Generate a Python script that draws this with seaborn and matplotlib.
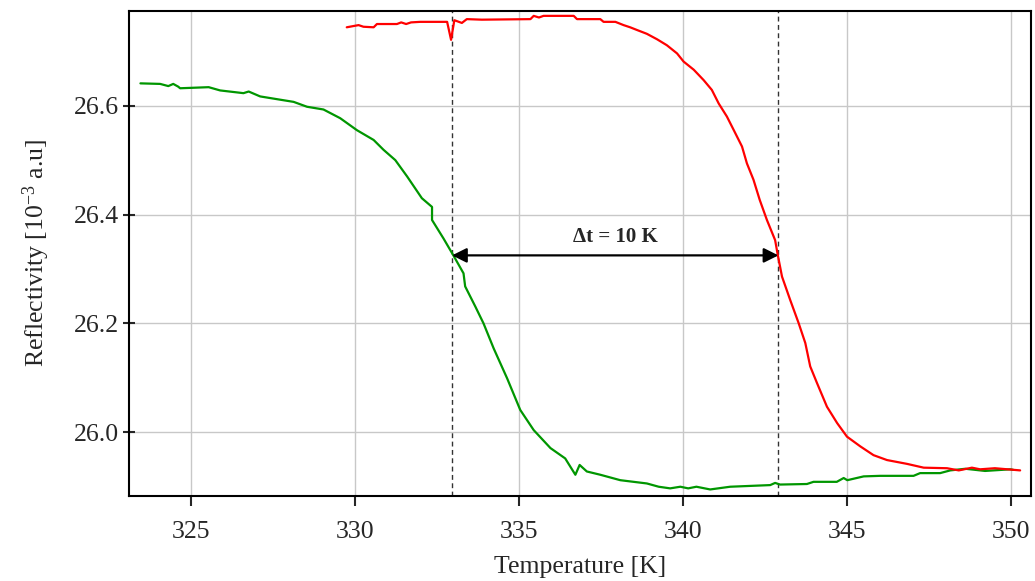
import matplotlib
matplotlib.use("Agg")
import matplotlib.pyplot as plt
import seaborn as sns
import pandas as pd

# Cooling branch (green): temperature [K] and reflectivity [1e-3 a.u.]
cool_T = [323.45, 324.05, 324.30, 324.45, 324.60, 324.66, 325.53, 325.88, 326.59,
          326.75, 327.10, 327.71, 328.12, 328.53, 329.03, 329.54, 330.05, 330.56,
          330.86, 331.22, 331.58, 332.03, 332.34, 332.34, 332.69, 333.00, 333.30,
          333.35, 333.66, 333.91, 334.22, 334.63, 335.03, 335.44, 335.95, 336.40,
          336.71, 336.84, 337.06, 337.47, 338.08, 338.89, 339.25, 339.60, 339.91,
          340.15, 340.40, 340.82, 341.43, 342.65, 342.80, 342.95, 343.77, 343.97,
          344.68, 344.89, 345.00, 345.50, 346.00, 347.02, 347.22, 347.83, 348.14,
          348.60, 349.20, 349.97, 350.06]
cool_R = [26.641, 26.640, 26.636, 26.640, 26.635, 26.632, 26.634, 26.628, 26.623,
          26.626, 26.617, 26.611, 26.607, 26.598, 26.593, 26.577, 26.555, 26.537,
          26.519, 26.500, 26.470, 26.430, 26.414, 26.390, 26.356, 26.324, 26.292,
          26.268, 26.231, 26.200, 26.154, 26.099, 26.041, 26.004, 25.971, 25.952,
          25.922, 25.940, 25.928, 25.922, 25.912, 25.906, 25.900, 25.897, 25.900,
          25.897, 25.900, 25.895, 25.900, 25.903, 25.907, 25.904, 25.905, 25.909,
          25.909, 25.916, 25.912, 25.919, 25.920, 25.920, 25.925, 25.925, 25.930,
          25.933, 25.929, 25.932, 25.931]

# Heating branch (red)
heat_T = [329.74, 330.10, 330.25, 330.56, 330.66, 331.27, 331.40, 331.55, 331.70,
          331.98, 332.80, 332.92, 333.02, 333.25, 333.40, 333.86, 335.34, 335.44,
          335.60, 335.74, 336.66, 336.76, 337.47, 337.57, 337.93, 338.18, 338.38,
          338.59, 338.89, 339.20, 339.50, 339.81, 340.01, 340.32, 340.62, 340.87,
          341.08, 341.33, 341.54, 341.79, 341.94, 342.14, 342.33, 342.55, 342.80,
          342.88, 343.01, 343.26, 343.52, 343.72, 343.87, 344.08, 344.38, 344.69,
          344.99, 345.40, 345.80, 346.21, 346.82, 347.33, 348.04, 348.40, 348.80,
          349.05, 349.50, 350.27]
heat_R = [26.744, 26.748, 26.745, 26.744, 26.750, 26.750, 26.753, 26.750, 26.753,
          26.754, 26.754, 26.721, 26.757, 26.752, 26.759, 26.758, 26.759, 26.765,
          26.762, 26.765, 26.765, 26.759, 26.759, 26.754, 26.754, 26.748, 26.744,
          26.739, 26.732, 26.722, 26.711, 26.696, 26.681, 26.666, 26.647, 26.629,
          26.604, 26.580, 26.555, 26.525, 26.494, 26.464, 26.427, 26.390, 26.353,
          26.326, 26.286, 26.243, 26.200, 26.164, 26.121, 26.090, 26.047, 26.017,
          25.992, 25.974, 25.958, 25.949, 25.942, 25.935, 25.934, 25.930, 25.935,
          25.932, 25.934, 25.930]

# Transition midpoints and hysteresis width
T_mid_cool = 332.95
T_mid_heat = 342.90
R_arrow = 26.325
delta_label = "Δt = 10 K"

x_ticks = [325, 330, 335, 340, 345, 350]
y_ticks = [26.0, 26.2, 26.4, 26.6]

df = pd.concat([
    pd.DataFrame({"T": cool_T, "R": cool_R, "branch": "cooling"}),
    pd.DataFrame({"T": heat_T, "R": heat_R, "branch": "heating"}),
], ignore_index=True)

sns.set_theme(style="ticks")
plt.rcParams["font.family"] = ["Liberation Serif", "DejaVu Serif"]
plt.rcParams["mathtext.fontset"] = "custom"
plt.rcParams["mathtext.rm"] = "Liberation Serif"
plt.rcParams["mathtext.it"] = "Liberation Serif:italic"
plt.rcParams["mathtext.bf"] = "Liberation Serif:bold"

fig = plt.figure(figsize=(10.35, 5.81), dpi=100)
ax = fig.add_axes([0.1246, 0.1468, 0.8715, 0.8348])

ax.grid(True, color="#c8c8c8", linewidth=1.0, zorder=0)
ax.set_axisbelow(True)

sns.lineplot(data=df, x="T", y="R", hue="branch",
             estimator=None, sort=False,
             palette={"cooling": "#009600", "heating": "#ff0000"},
             linewidth=1.6, legend=False, ax=ax, zorder=3)

for tv in (T_mid_cool, T_mid_heat):
    ax.axvline(tv, color="#333333", linestyle=(0, (3.5, 2.5)), linewidth=1.0, zorder=2)

ax.annotate("", xy=(T_mid_cool, R_arrow), xytext=(T_mid_heat, R_arrow),
            arrowprops=dict(arrowstyle="<|-|>", color="black", lw=1.6,
                            mutation_scale=22, shrinkA=0, shrinkB=0), zorder=4)
ax.text((T_mid_cool + T_mid_heat) / 2, R_arrow + 0.015, delta_label,
        ha="center", va="bottom", fontsize=15, fontweight="bold")

ax.set_xlim(323.1, 350.6)
ax.set_ylim(25.8835, 26.7745)
ax.set_xticks(x_ticks)
ax.set_yticks(y_ticks)
ax.set_yticklabels([f"{v:.1f}" for v in y_ticks])

ax.tick_params(axis="x", direction="out", length=7.5, width=1.5, labelsize=18.5, pad=11)
ax.tick_params(axis="y", direction="inout", length=8.5, width=1.5, labelsize=18.5, pad=3)
for s in ax.spines.values():
    s.set_linewidth(1.5)
    s.set_color("black")

ax.set_xlabel("Temperature [K]", fontsize=18.5, labelpad=9)
ax.set_ylabel(r"Reflectivity [10$^{\mathrm{-3}}$ a.u]", fontsize=18.5, labelpad=16)

fig.savefig("out.png", dpi=100)
